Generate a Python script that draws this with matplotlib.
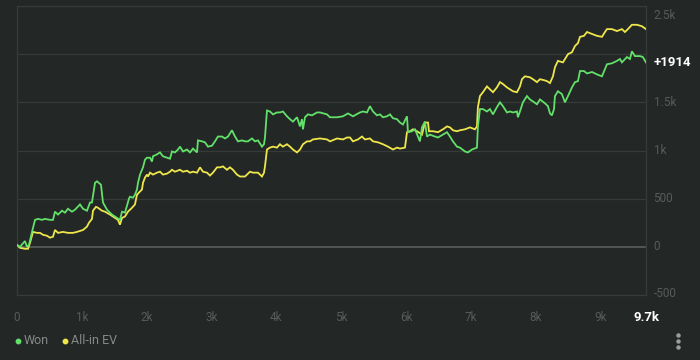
import matplotlib
matplotlib.use("Agg")
import matplotlib.pyplot as plt
from matplotlib import transforms
from matplotlib.lines import Line2D

plt.rcParams['font.family'] = ['Roboto', 'DejaVu Sans']

won_x = [0, 46, 123, 154, 185, 231, 278, 324, 385, 432, 509, 555, 586, 632, 694, 740, 786, 848, 894, 971,
         1018, 1079, 1126, 1156, 1203, 1234, 1295, 1326, 1388, 1465, 1542, 1588, 1619, 1665, 1727, 1742, 1788,
         1819, 1850, 1866, 1897, 1943, 1974, 2005, 2051, 2082, 2097, 2159, 2205, 2251, 2313, 2359, 2390, 2436,
         2483, 2513, 2560, 2621, 2668, 2714, 2776, 2791, 2853, 2899, 2945, 3007, 3053, 3099, 3161, 3207, 3254,
         3315, 3362, 3408, 3470, 3516, 3562, 3624, 3670, 3716, 3778, 3809, 3824, 3855, 3901, 3948, 4009, 4055,
         4101, 4163, 4210, 4256, 4318, 4364, 4395, 4410, 4441, 4487, 4549, 4626, 4672, 4780, 4827, 4935, 5027,
         5104, 5181, 5289, 5335, 5397, 5443, 5490, 5551, 5597, 5644, 5705, 5752, 5798, 5860, 5906, 5952, 6014,
         6029, 6091, 6137, 6184, 6214, 6245, 6291, 6322, 6368, 6445, 6492, 6569, 6631, 6677, 6723, 6785, 6831,
         6908, 6954, 7016, 7093, 7108, 7139, 7185, 7247, 7293, 7340, 7401, 7448, 7494, 7556, 7602, 7648, 7710,
         7725, 7756, 7802, 7864, 7910, 7956, 8018, 8065, 8142, 8188, 8219, 8250, 8281, 8296, 8342, 8404, 8450,
         8497, 8558, 8605, 8651, 8682, 8743, 8790, 8867, 8944, 9021, 9067, 9098, 9175, 9252, 9298, 9329, 9406,
         9452, 9483, 9529, 9606, 9652, 9700]
won_y = [20, 0, 60, 0, 20, 155, 280, 290, 280, 290, 280, 280, 365, 335, 375, 355, 395, 365, 385, 440,
         395, 375, 460, 460, 665, 680, 645, 460, 385, 335, 300, 280, 365, 355, 500, 520, 510,
         540, 595, 665, 750, 825, 905, 925, 925, 885, 940, 960, 980, 940, 925, 915, 990, 980,
         1010, 1040, 990, 1010, 980, 1020, 980, 1105, 1095, 1085, 1040, 1050, 1095, 1145, 1145, 1125, 1145,
         1210, 1145, 1095, 1105, 1095, 1095, 1125, 1095, 1105, 1040, 1065, 1135, 1415, 1405, 1375, 1395, 1395,
         1405, 1355, 1325, 1300, 1345, 1250, 1325, 1220, 1345, 1375, 1365, 1395, 1395, 1375, 1345, 1345, 1355,
         1385, 1355, 1395, 1405, 1395, 1460, 1405, 1365, 1375, 1345, 1355, 1375, 1335, 1325, 1290, 1270, 1355,
         1190, 1200, 1220, 1145, 1095, 1240, 1300, 1145, 1165, 1145, 1135, 1165, 1190, 1145, 1095, 1040, 1030,
         990, 980, 1010, 1030, 1250, 1430, 1430, 1405, 1430, 1375, 1450, 1500, 1460, 1395, 1405, 1395, 1405,
         1345, 1405, 1500, 1565, 1530, 1510, 1480, 1530, 1490, 1460, 1385, 1365, 1430, 1565, 1615, 1585, 1500,
         1565, 1655, 1710, 1720, 1825, 1825, 1800, 1815, 1790, 1770, 1845, 1895, 1905, 1930, 1950, 1915, 1970,
         1950, 2030, 1980, 1980, 1970, 1914]

ev_x = [0, 46, 123, 170, 200, 247, 308, 355, 401, 463, 509, 555, 586, 632, 709, 786, 863, 925, 971, 1018,
        1079, 1110, 1156, 1172, 1218, 1249, 1311, 1357, 1434, 1511, 1557, 1588, 1619, 1665, 1711, 1742, 1773,
        1819, 1850, 1897, 1927, 1943, 1974, 2005, 2020, 2051, 2097, 2159, 2205, 2251, 2313, 2359, 2390, 2436,
        2513, 2560, 2621, 2668, 2714, 2776, 2822, 2868, 2930, 2976, 3022, 3084, 3130, 3176, 3238, 3284, 3330,
        3392, 3439, 3516, 3593, 3639, 3716, 3778, 3809, 3824, 3855, 3901, 3948, 4009, 4055, 4101, 4163, 4210,
        4256, 4318, 4364, 4410, 4472, 4518, 4564, 4672, 4780, 4827, 4935, 5027, 5089, 5135, 5181, 5258, 5320,
        5366, 5443, 5490, 5566, 5644, 5721, 5798, 5860, 5906, 5983, 6014, 6060, 6107, 6168, 6245, 6291, 6338,
        6353, 6415, 6492, 6569, 6631, 6677, 6723, 6785, 6831, 6908, 6985, 7062, 7093, 7108, 7139, 7185, 7247,
        7293, 7340, 7401, 7448, 7494, 7556, 7602, 7648, 7710, 7756, 7787, 7833, 7910, 7956, 8018, 8065, 8127,
        8173, 8219, 8265, 8296, 8342, 8419, 8497, 8558, 8605, 8651, 8682, 8743, 8790, 8867, 8944, 9021, 9067,
        9098, 9175, 9252, 9329, 9375, 9421, 9483, 9560, 9637, 9700]
ev_y = [20, -10, -20, -20, 40, 155, 145, 145, 125, 115, 95, 105, 175, 145, 155, 145, 145, 155, 165, 175,
        210, 250, 290, 375, 415, 405, 375, 365, 335, 300, 280, 230, 300, 315, 365, 385, 405,
        440, 540, 575, 595, 665, 720, 750, 730, 770, 750, 770, 780, 750, 760, 780, 800, 780,
        800, 780, 790, 770, 780, 770, 825, 780, 770, 740, 770, 825, 825, 835, 800, 825, 800,
        750, 730, 730, 780, 770, 770, 730, 770, 835, 1010, 1030, 1040, 1030, 1065, 1040, 1065, 1040,
        1010, 980, 1010, 1065, 1095, 1095, 1115, 1125, 1115, 1095, 1125, 1115, 1135, 1135, 1095, 1115, 1145,
        1115, 1125, 1095, 1085, 1065, 1040, 1010, 1030, 1020, 1030, 1190, 1200, 1220, 1200, 1165, 1290, 1290,
        1200, 1200, 1190, 1220, 1250, 1240, 1210, 1200, 1210, 1220, 1240, 1220, 1250, 1450, 1565, 1605, 1665,
        1635, 1605, 1655, 1710, 1690, 1655, 1635, 1615, 1605, 1665, 1740, 1770, 1760, 1740, 1710, 1740, 1730,
        1720, 1700, 1770, 1865, 1930, 1915, 2000, 2020, 2085, 2115, 2180, 2190, 2230, 2210, 2190, 2180, 2230,
        2260, 2260, 2240, 2260, 2230, 2260, 2305, 2305, 2290, 2260]

x_ticks = [0, 1000, 2000, 3000, 4000, 5000, 6000, 7000, 8000, 9000]
x_tick_labels = ["0", "1k", "2k", "3k", "4k", "5k", "6k", "7k", "8k", "9k"]
x_end = 9700
x_end_label = "9.7k"
y_ticks = [-500, 0, 500, 1000, 1500, 2000, 2500]
y_tick_labels = ["-500", "0", "500", "1k", "1.5k", "2k", "2.5k"]
final_label = "+1914"

BG = "#232826"
GRID = "#363b39"
TICK = "#575b59"
GREEN = "#62e06a"
YELLOW = "#efe64c"

W, H = 700, 360
fig = plt.figure(figsize=(7, 3.6), dpi=100, facecolor=BG)
ax = fig.add_axes([17 / W, (H - 295) / H, (646 - 17) / W, (295 - 6) / H])
ax.set_facecolor(BG)
ax.set_xlim(0, x_end)
ax.set_ylim(-500, 2500)

for v in y_ticks:
    if v == 0:
        ax.axhline(v, color="#5a5e5c", lw=1.2, zorder=1)
    else:
        ax.axhline(v, color=GRID, lw=0.9, zorder=1)
for s in ax.spines.values():
    s.set_color(GRID)
    s.set_linewidth(0.9)
ax.tick_params(left=False, bottom=False, labelleft=False, labelbottom=False)

ax.plot(ev_x, ev_y, color=YELLOW, lw=1.3, zorder=3, solid_joinstyle="miter")
ax.plot(won_x, won_y, color=GREEN, lw=1.3, zorder=4, solid_joinstyle="miter")

# y labels on the right
ty = transforms.blended_transform_factory(ax.transAxes, ax.transData)
for v, lab in zip(y_ticks, y_tick_labels):
    if v == 2000:
        continue  # covered by the final value label
    yy = v
    va = "center"
    if v == 2500:
        va = "top"
        yy = 2500 - 30
    if v == -500:
        va = "bottom"
        yy = -500 - 50
    ax.text(1.012, yy, lab, transform=ty, ha="left", va=va, color=TICK, fontsize=8.5)
ax.text(1.012, won_y[-1], final_label, transform=ty, ha="left", va="center",
        color="white", fontsize=9.5, fontweight="bold")

# x labels
tx = transforms.blended_transform_factory(ax.transData, ax.transAxes)
for v, lab in zip(x_ticks, x_tick_labels):
    ax.text(v, -0.078, lab, transform=tx, ha="center", va="center", color=TICK, fontsize=8.5)
ax.text(x_end, -0.078, x_end_label, transform=tx, ha="center", va="center",
        color="white", fontsize=9.5, fontweight="bold")

# legend
ly = 1 - 341 / H
fig.add_artist(Line2D([18 / W], [ly], marker="o", markersize=3.2, color=GREEN,
                      transform=fig.transFigure, linestyle="none"))
fig.text(24 / W, ly, "Won", color="#858987", fontsize=9, ha="left", va="center")
fig.add_artist(Line2D([65 / W], [ly], marker="o", markersize=3.2, color=YELLOW,
                      transform=fig.transFigure, linestyle="none"))
fig.text(71 / W, ly, "All-in EV", color="#858987", fontsize=9, ha="left", va="center")
# menu dots
fig.add_artist(Line2D([678 / W] * 3, [ly + 6 / H, ly, ly - 6 / H], marker="o", markersize=2.2,
                      color="#9a9e9c", transform=fig.transFigure, linestyle="none"))

fig.savefig("out.png", dpi=100, facecolor=BG)
